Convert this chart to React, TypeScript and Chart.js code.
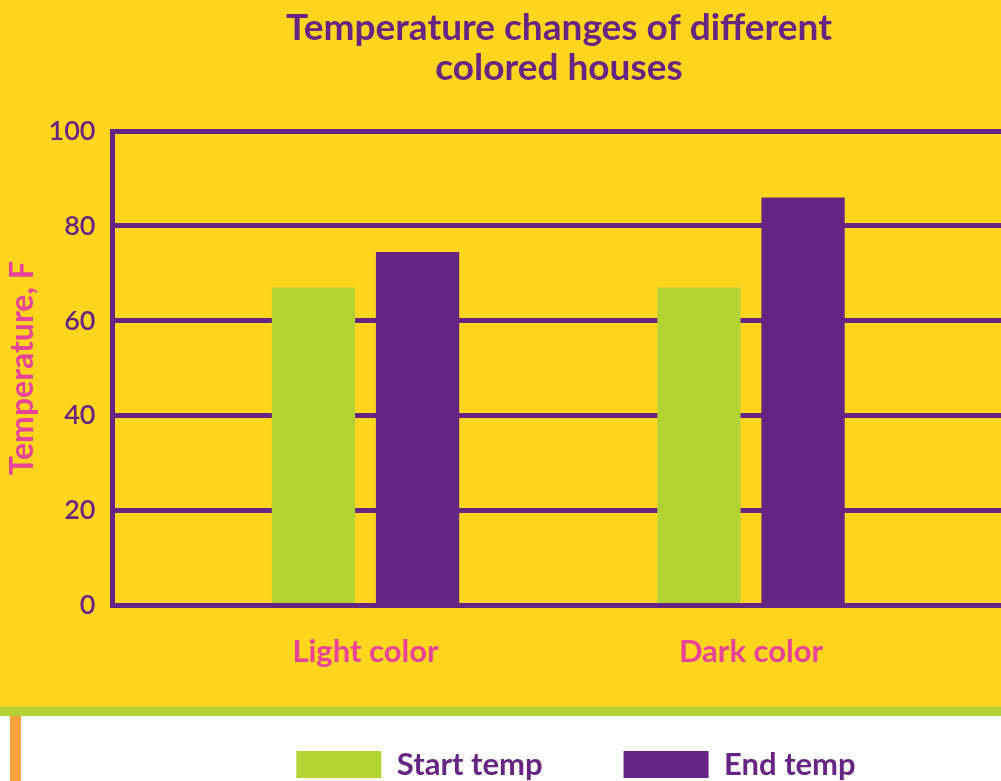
import React, { useEffect, useRef } from "react";
import { Chart, registerables } from "chart.js";

Chart.register(...registerables);

// ---- data ----
const categories = ["Light color", "Dark color"];
const seriesNames = ["Start temp", "End temp"];
const startTemp = [67, 67];
const endTemp = [74.5, 86];
const yTicks = [0, 20, 40, 60, 80, 100];
const titleLines = ["Temperature changes of different", "colored houses"];
const yTitle = "Temperature, F";

// ---- styles ----
const PURPLE = "#662483";
const GREEN = "#B3D335";
const PINK = "#E8439A";
const YELLOW = "#FFD51D";
const ORANGE = "#F9A13F";
const FONT = "Lato";

export default function App() {
  const ref = useRef<HTMLCanvasElement>(null);

  useEffect(() => {
    document.body.style.margin = "0";
    const canvas = ref.current;
    if (!canvas) return;
    const positions = categories.map((_, i) => i + 1);
    const chart = new Chart(canvas, {
      type: "bar",
      data: {
        datasets: [
          {
            label: seriesNames[0],
            data: startTemp.map((v, i) => ({ x: positions[i], y: v })),
            backgroundColor: GREEN,
            borderWidth: 0,
            categoryPercentage: 0.54,
            barPercentage: 0.8,
          },
          {
            label: seriesNames[1],
            data: endTemp.map((v, i) => ({ x: positions[i], y: v })),
            backgroundColor: PURPLE,
            borderWidth: 0,
            categoryPercentage: 0.54,
            barPercentage: 0.8,
          },
        ],
      },
      options: {
        responsive: false,
        animation: false,
        events: [],
        layout: { padding: 0 },
        plugins: {
          title: {
            display: true,
            text: titleLines,
            color: PURPLE,
            font: { family: FONT, size: 37, weight: "bold", lineHeight: "40px" },
            padding: { top: 8, bottom: 43 },
          },
          legend: {
            position: "bottom",
            fullSize: false,
            labels: {
              boxWidth: 85,
              boxHeight: 27,
              padding: 81,
              color: PURPLE,
              font: { family: FONT, size: 31, weight: "bold" },
            },
          },
          tooltip: { enabled: false },
        },
        scales: {
          x: {
            type: "linear",
            offset: false,
            min: 0.34371,
            max: 2.74838,
            afterBuildTicks: (axis: any) => {
              axis.ticks = positions.map((v) => ({ value: v }));
            },
            afterFit: (axis: any) => {
              axis.height = 62.5;
            },
            grid: { display: false, drawTicks: false },
            border: { display: false },
            ticks: {
              callback: (v: any) => categories[Number(v) - 1] ?? "",
              color: PINK,
              font: { family: FONT, size: 31, weight: "bold" },
              padding: 27.5,
              maxRotation: 0,
              autoSkip: false,
            },
          },
          y: {
            position: "left",
            min: 0,
            max: 100,
            afterBuildTicks: (axis: any) => {
              axis.ticks = yTicks.map((v) => ({ value: v }));
            },
            afterFit: (axis: any) => {
              axis.width = 112.5;
            },
            grid: { color: PURPLE, lineWidth: 5, drawTicks: false },
            border: { display: true, color: PURPLE, width: 5 },
            ticks: {
              color: PURPLE,
              font: { family: FONT, size: 27, weight: "600" },
              padding: 17,
            },
            title: {
              display: true,
              text: yTitle,
              color: PINK,
              font: { family: FONT, size: 32, weight: "bold" },
              padding: { top: 3, bottom: 0 },
            },
          },
          yRight: {
            position: "right",
            display: true,
            afterFit: (axis: any) => {
              axis.width = 78.5;
            },
            grid: { display: false, drawTicks: false },
            border: { display: false },
            ticks: { display: false },
          },
        },
      },
    } as any);
    return () => chart.destroy();
  }, []);

  return (
    <div
      style={{
        position: "absolute",
        left: 0,
        top: 0,
        width: 1001,
        height: 781,
        overflow: "hidden",
        background: "#ffffff",
      }}
    >
      <div style={{ position: "absolute", left: 0, top: 0, width: "100%", height: 707, background: YELLOW }} />
      <div style={{ position: "absolute", left: 0, top: 707, width: "100%", height: 9, background: GREEN }} />
      <div style={{ position: "absolute", left: 10, top: 716, width: 11, height: 70, background: ORANGE }} />
      <canvas ref={ref} width={1118} height={790} style={{ position: "absolute", left: 0, top: 0 }} />
    </div>
  );
}
